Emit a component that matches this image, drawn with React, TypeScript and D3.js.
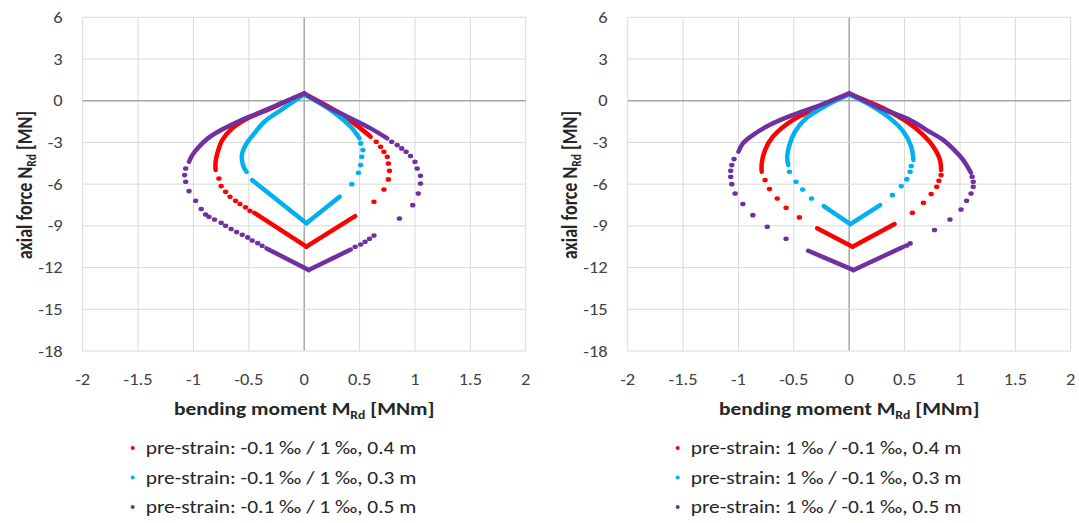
import React from "react";
import * as d3 from "d3";

type Pt = [number, number];

const xTicks = [-2, -1.5, -1, -0.5, 0, 0.5, 1, 1.5, 2];
const yTicks = [6, 3, 0, -3, -6, -9, -12, -15, -18];

const colors = ["#ff0000", "#00b0f0", "#7030a0"];

const leftLabels = [
  "pre-strain: -0.1 ‰ / 1 ‰, 0.4 m",
  "pre-strain: -0.1 ‰ / 1 ‰, 0.3 m",
  "pre-strain: -0.1 ‰ / 1 ‰, 0.5 m",
];
const rightLabels = [
  "pre-strain: 1 ‰ / -0.1 ‰, 0.4 m",
  "pre-strain: 1 ‰ / -0.1 ‰, 0.3 m",
  "pre-strain: 1 ‰ / -0.1 ‰, 0.5 m",
];

// left chart, red (0.4 m)
const lRedArcs: Pt[][] = [
  [[-0.8, -4.99], [-0.8, -4.39], [-0.78, -3.67], [-0.74, -2.83], [-0.65, -1.99], [-0.51, -1.27], [-0.3, -0.55], [-0.15, 0.0], [0, 0.5]],
  [[-0.45, -8.06], [0.02, -10.5]],
  [[0.02, -10.5], [0.46, -8.3]],
  [[0.6, -2.59], [0.45, -1.63], [0.27, -0.67], [0.12, 0.0], [0, 0.5]],
];
const lRedDots: Pt[] = [
  [-0.77, -5.59], [-0.75, -6.14], [-0.71, -6.55], [-0.67, -6.91], [-0.62, -7.19], [-0.58, -7.43], [-0.53, -7.67], [-0.49, -7.91],
  [0.63, -7.27], [0.72, -6.38], [0.76, -5.66], [0.77, -5.04], [0.76, -4.51], [0.75, -4.03], [0.72, -3.67], [0.69, -3.31], [0.65, -2.95],
];

// left chart, cyan (0.3 m)
const lCyanArcs: Pt[][] = [
  [[-0.52, -5.11], [-0.54, -4.87], [-0.56, -4.39], [-0.56, -3.79], [-0.52, -3.07], [-0.45, -2.35], [-0.36, -1.51], [-0.21, -0.67], [0, 0.45]],
  [[-0.47, -5.71], [0.02, -8.82]],
  [[0.02, -8.82], [0.32, -6.9]],
  [[0.5, -2.71], [0.42, -1.87], [0.24, -0.67], [0, 0.45]],
];
const lCyanDots: Pt[] = [
  [0.43, -6.0], [0.49, -5.18], [0.51, -4.63], [0.52, -4.03], [0.53, -3.55], [0.51, -3.07],
];

// left chart, purple (0.5 m)
const lPurpleArcs: Pt[][] = [
  [[-1.04, -4.39], [-1.01, -3.91], [-0.95, -3.31], [-0.87, -2.71], [-0.75, -2.11], [-0.6, -1.51], [-0.42, -0.91], [-0.21, -0.19], [0, 0.53]],
  [[-0.34, -10.62], [0.04, -12.18]],
  [[0.04, -12.18], [0.42, -10.7]],
  [[0.75, -2.71], [0.6, -1.99], [0.39, -1.15], [0.21, -0.43], [0, 0.53]],
];
const lPurpleDots: Pt[] = [
  [-1.07, -4.87], [-1.08, -5.35], [-1.07, -5.83], [-1.04, -6.5], [-0.98, -7.19], [-0.93, -7.79], [-0.89, -8.18], [-0.86, -8.35],
  [-0.81, -8.54], [-0.75, -8.78], [-0.71, -8.99], [-0.66, -9.23], [-0.61, -9.45], [-0.56, -9.64], [-0.51, -9.83], [-0.47, -10.05],
  [-0.42, -10.24], [-0.38, -10.43],
  [0.46, -10.5], [0.51, -10.34], [0.55, -10.14], [0.59, -9.93], [0.63, -9.69],
  [0.86, -8.47], [0.98, -7.51], [1.03, -6.67], [1.05, -5.95], [1.05, -5.4], [1.02, -4.87], [1.0, -4.39], [0.96, -3.98],
  [0.92, -3.67], [0.88, -3.43], [0.84, -3.19], [0.79, -2.95],
];

// right chart, red (0.4 m)
const rRedArcs: Pt[][] = [
  [[-0.79, -5.11], [-0.79, -4.51], [-0.76, -3.55], [-0.69, -2.59], [-0.51, -1.39], [-0.26, -0.43], [0, 0.5]],
  [[-0.29, -9.18], [0.03, -10.5]],
  [[0.03, -10.5], [0.41, -8.87]],
  [[0.83, -4.99], [0.82, -4.27], [0.76, -3.31], [0.67, -2.47], [0.52, -1.51], [0.31, -0.55], [0, 0.5]],
];
const rRedDots: Pt[] = [
  [-0.76, -5.71], [-0.72, -6.35], [-0.65, -7.03], [-0.57, -7.7], [-0.45, -8.39],
  [0.57, -8.06], [0.67, -7.34], [0.74, -6.71], [0.79, -6.19], [0.81, -5.76], [0.83, -5.35],
];

// right chart, cyan (0.3 m)
const rCyanArcs: Pt[][] = [
  [[-0.55, -4.63], [-0.56, -4.03], [-0.54, -3.19], [-0.49, -2.23], [-0.39, -1.27], [-0.2, -0.31], [0, 0.45]],
  [[-0.23, -7.58], [0.01, -8.87]],
  [[0.01, -8.87], [0.28, -7.51]],
  [[0.58, -4.27], [0.56, -3.31], [0.49, -2.23], [0.37, -1.27], [0.19, -0.31], [0, 0.45]],
];
const rCyanDots: Pt[] = [
  [-0.54, -5.11], [-0.48, -5.83], [-0.42, -6.38], [-0.34, -7.03],
  [0.39, -6.79], [0.47, -6.14], [0.52, -5.64], [0.55, -5.11], [0.56, -4.7],
];

// right chart, purple (0.5 m)
const rPurpleArcs: Pt[][] = [
  [[-1.0, -3.67], [-0.96, -3.07], [-0.87, -2.47], [-0.72, -1.75], [-0.51, -1.03], [-0.26, -0.31], [0, 0.53]],
  [[-0.37, -10.79], [0.04, -12.18]],
  [[0.04, -12.18], [0.49, -10.5]],
  [[1.1, -5.18], [1.03, -4.27], [0.95, -3.55], [0.85, -2.83], [0.7, -2.11], [0.55, -1.39], [0.25, -0.43], [0, 0.53]],
];
const rPurpleDots: Pt[] = [
  [-1.04, -4.2], [-1.06, -4.63], [-1.07, -5.04], [-1.07, -5.47], [-1.06, -6.0], [-1.03, -6.67], [-0.96, -7.43], [-0.87, -8.23],
  [-0.74, -9.06], [-0.57, -9.93],
  [0.52, -10.41], [0.55, -10.26],
  [0.77, -9.3], [0.91, -8.54], [1.01, -7.82], [1.06, -7.19], [1.1, -6.67], [1.12, -6.19], [1.12, -5.83], [1.11, -5.47],
];

const FONT = "Carlito, Lato, 'Liberation Sans', sans-serif";
// the source picture is stretched horizontally
const SX = 1.19;

type Series = { arcs: Pt[][]; dots: Pt[] };

const Panel = ({ left, series, labels }: { left: number; series: Series[]; labels: string[] }) => {
  const x = d3.scaleLinear().domain([-2, 2]).range([left, left + 443]);
  const y = d3.scaleLinear().domain([-18, 6]).range([351, 17.3]);
  const line = d3
    .line<Pt>()
    .x((d) => x(d[0]))
    .y((d) => y(d[1]))
    .curve(d3.curveCatmullRom);
  const cx = (left + left + 443) / 2;

  return (
    <g fontFamily={FONT}>
      {xTicks.map((t) => (
        <line key={"gx" + t} x1={x(t)} x2={x(t)} y1={y(6)} y2={y(-18)} stroke={t === 0 ? "#a6a6a6" : "#d9d9d9"} strokeWidth={t === 0 ? 1.5 : 1} />
      ))}
      {yTicks.map((t) => (
        <line key={"gy" + t} x1={x(-2)} x2={x(2)} y1={y(t)} y2={y(t)} stroke={t === 0 ? "#a6a6a6" : "#d9d9d9"} strokeWidth={t === 0 ? 1.5 : 1} />
      ))}
      {xTicks.map((t) => (
        <text key={"tx" + t} transform={`translate(${x(t)},385) scale(${SX},1)`} textAnchor="middle" fontSize={15.5} fill="#404040">
          {t}
        </text>
      ))}
      {yTicks.map((t) => (
        <text key={"ty" + t} transform={`translate(${left - 20},${y(t) + 5.5}) scale(${SX},1)`} textAnchor="end" fontSize={15.5} fill="#404040">
          {t}
        </text>
      ))}
      {series.map((s, i) => (
        <g key={"s" + i}>
          {s.arcs.map((a, j) => (
            <path key={j} d={line(a) || ""} fill="none" stroke={colors[i]} strokeWidth={4.5} strokeLinecap="round" strokeLinejoin="round" />
          ))}
          {s.dots.map((d, j) => (
            <ellipse key={"d" + j} cx={x(d[0])} cy={y(d[1])} rx={2.7} ry={2.3} fill={colors[i]} />
          ))}
        </g>
      ))}
      <text transform={`translate(${cx},415) scale(${SX},1)`} textAnchor="middle" fontSize={18} fontWeight="bold" fill="#262626">
        bending moment M<tspan fontSize={11.5} dy={4}>Rd</tspan>
        <tspan dy={-4}> [MNm]</tspan>
      </text>
      <text transform={`translate(${left - 51},185) rotate(-90) scale(1,${SX})`} textAnchor="middle" fontSize={18} fontWeight="bold" fill="#262626">
        axial force N<tspan fontSize={11.5} dy={4}>Rd</tspan>
        <tspan dy={-4}> [MN]</tspan>
      </text>
      {labels.map((l, i) => (
        <g key={"l" + i}>
          <circle cx={left + 50} cy={448 + i * 29.5} r={2} fill={colors[i]} />
          <text transform={`translate(${left + 63},${454 + i * 29.5}) scale(${SX},1)`} fontSize={18} fill="#262626">
            {l}
          </text>
        </g>
      ))}
    </g>
  );
};

export default function App() {
  const leftSeries: Series[] = [
    { arcs: lRedArcs, dots: lRedDots },
    { arcs: lCyanArcs, dots: lCyanDots },
    { arcs: lPurpleArcs, dots: lPurpleDots },
  ];
  const rightSeries: Series[] = [
    { arcs: rRedArcs, dots: rRedDots },
    { arcs: rCyanArcs, dots: rCyanDots },
    { arcs: rPurpleArcs, dots: rPurpleDots },
  ];
  return (
    <svg width={1079} height={523} style={{ position: "absolute", left: 0, top: 0, background: "#fff" }}>
      <rect x={0} y={0} width={1079} height={523} fill="#fff" />
      <Panel left={82.7} series={leftSeries} labels={leftLabels} />
      <Panel left={627.7} series={rightSeries} labels={rightLabels} />
    </svg>
  );
}
